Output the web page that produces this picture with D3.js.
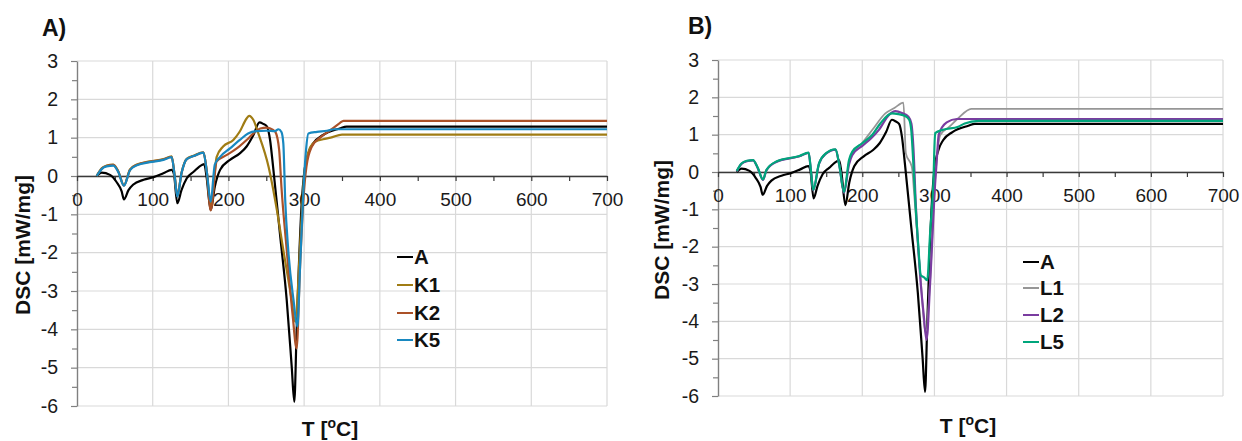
<!DOCTYPE html>
<html>
<head>
<meta charset="utf-8">
<script src="https://cdn.jsdelivr.net/npm/d3@7"></script>
<style>
  html, body { margin: 0; padding: 0; background: #fff; }
  svg { display: block; font-family: "Liberation Sans", Arial, sans-serif; }
</style>
</head>
<body>
<svg id="chart" width="1242" height="441"></svg>
<script>
// ---- DSC curves: temperature [°C] and heat flow [mW/mg] ----
const tempA = [26, 32.6, 43.6, 52, 59, 62, 68, 74, 88, 101, 114, 125, 128, 132.5, 138, 145, 154, 165, 168, 171, 176.6, 182, 189, 202, 215, 224, 233, 241, 246, 251, 255, 259, 268, 277, 283.6, 287, 290, 293, 297, 300, 305.6, 312, 325, 347, 356, 700];
const dscA  = [0, 0.09, 0.03, -0.15, -0.4, -0.61, -0.37, -0.23, -0.1, -0.03, 0.07, 0.16, 0.05, -0.71, -0.37, -0.06, 0.11, 0.29, 0.31, 0.0, -0.89, -0.28, 0.16, 0.42, 0.59, 0.77, 1.07, 1.4, 1.36, 1.29, 0.94, 0.24, -1.5, -3.24, -4.98, -5.89, -4.1, -2.37, -0.63, 0.07, 0.59, 0.85, 1.07, 1.24, 1.29, 1.29];

const tempK1 = [26, 32.6, 39, 48, 54.6, 62, 70, 79, 96, 114, 125, 129, 132.5, 138, 145, 154, 167, 171.5, 176.6, 184.5, 193, 206.5, 215, 224, 227.5, 233, 239.5, 253, 264, 272.5, 283.6, 288, 295.5, 300, 303, 308, 315, 325, 335, 350, 700];
const dscK1  = [0, 0.2, 0.27, 0.3, 0.12, -0.24, 0.17, 0.3, 0.38, 0.44, 0.51, 0.0, -0.52, 0.08, 0.45, 0.53, 0.62, 0.1, -0.8, 0.5, 0.77, 0.94, 1.16, 1.5, 1.57, 1.46, 1.11, 0.24, -0.89, -1.93, -3.24, -3.8, -1.5, 0.0, 0.4, 0.75, 0.9, 0.96, 1.0, 1.08, 1.08];

const tempK2 = [26, 32.6, 39, 48, 54.6, 62, 70, 79, 96, 114, 125, 129, 132.5, 138, 145, 154, 167, 171.5, 176.6, 184.5, 198, 211, 224, 233, 242, 250.5, 259, 262, 267, 270, 277, 285, 290, 294.6, 299, 303, 310, 321, 335, 347, 352, 700];
const dscK2  = [0, 0.19, 0.26, 0.29, 0.11, -0.25, 0.16, 0.29, 0.37, 0.43, 0.5, 0.0, -0.53, 0.07, 0.44, 0.52, 0.61, 0.1, -0.9, 0.38, 0.55, 0.72, 0.94, 1.11, 1.24, 1.26, 1.2, 1.15, 0.68, -0.28, -1.93, -3.67, -4.5, -2.37, -0.63, 0.24, 0.76, 1.0, 1.2, 1.38, 1.44, 1.44];

const tempK5 = [26, 32.6, 39, 48, 54.6, 62, 70, 79, 96, 114, 125, 129, 132.5, 138, 145, 154, 167, 171.5, 176.6, 182, 189, 202, 215, 226, 237, 250, 261.5, 266, 270, 272.5, 275, 279, 286, 291, 294.6, 299, 302.5, 305.6, 317, 330, 340, 700];
const dscK5  = [0, 0.18, 0.25, 0.27, 0.1, -0.25, 0.15, 0.28, 0.36, 0.42, 0.49, 0.0, -0.54, 0.07, 0.44, 0.52, 0.61, 0.1, -0.67, 0.3, 0.5, 0.72, 0.94, 1.11, 1.17, 1.18, 1.17, 1.22, 1.15, 0.85, -0.63, -1.93, -3.24, -3.93, -2.37, -0.4, 0.68, 1.11, 1.15, 1.18, 1.22, 1.22];

const tempL1 = [26, 32.6, 40, 48.6, 55, 62.4, 67, 80.7, 112.8, 125.6, 129, 132, 140, 149.5, 163, 168, 174.7, 181.6, 186, 200, 214, 232, 245, 257, 260.4, 268.7, 272, 281, 288, 294, 300, 304, 308, 320, 333, 351, 700];
const dscL1  = [0.02, 0.22, 0.29, 0.31, 0.11, -0.21, 0.04, 0.27, 0.42, 0.51, 0.0, -0.49, 0.22, 0.49, 0.6, 0.2, -0.55, 0.25, 0.5, 0.78, 1.13, 1.57, 1.72, 1.86, 0.5, 0.14, -0.6, -2.9, -4.3, -2.9, -0.5, 0.5, 0.99, 1.2, 1.44, 1.69, 1.69];

const tempL2 = [26, 32.6, 40, 48.6, 55, 62.4, 67, 80.7, 112.8, 125.6, 129, 132, 140, 149.5, 163, 168, 174.7, 181.6, 186, 200, 212, 223, 237, 246, 255, 264, 268, 271, 274, 281, 285, 289, 294, 301, 303.5, 306, 317, 331, 700];
const dscL2  = [0.02, 0.22, 0.29, 0.31, 0.11, -0.21, 0.04, 0.27, 0.42, 0.51, 0.0, -0.49, 0.22, 0.49, 0.6, 0.2, -0.55, 0.2, 0.45, 0.7, 0.9, 1.13, 1.53, 1.63, 1.58, 1.48, 1.3, 0.6, -0.8, -2.98, -3.8, -4.5, -2.98, -0.3, 0.4, 1.0, 1.33, 1.42, 1.42];

const tempL5 = [26, 32.6, 40, 48.6, 55, 62.4, 67, 80.7, 112.8, 125.6, 129, 132, 140, 149.5, 163, 168, 174.7, 181.6, 186, 200, 213.6, 225, 241, 250, 259.5, 265, 268, 270, 274, 278, 281, 286, 290, 294, 298.5, 301, 312, 333, 342, 361, 700];
const dscL5  = [0.03, 0.23, 0.3, 0.32, 0.12, -0.2, 0.05, 0.28, 0.43, 0.52, 0.0, -0.48, 0.23, 0.5, 0.61, 0.2, -0.53, 0.32, 0.54, 0.77, 0.99, 1.3, 1.57, 1.55, 1.5, 1.4, 1.1, 0.5, -0.95, -2.09, -2.76, -2.83, -2.9, -1.64, -0.3, 1.04, 1.13, 1.21, 1.3, 1.37, 1.37];

// ---- axes ----
const xTicks = [0, 100, 200, 300, 400, 500, 600, 700];
const yTicks = [-6, -5, -4, -3, -2, -1, 0, 1, 2, 3];
const xDomain = [0, 700];
const yDomain = [-6, 3];

const zip = (t, v) => t.map((d, i) => [d, v[i]]);

const panels = [
  {
    title: "A)", titleX: 42, titleY: 36,
    xRange: [77, 607], yRange: [406, 61],
    yTitle: [22, 245], xTitle: [330, 436],
    legendX: 397, legendY: [257, 285, 313, 340],
    series: [
      { name: "A",  color: "#000000", data: zip(tempA, dscA) },
      { name: "K1", color: "#a07c14", data: zip(tempK1, dscK1) },
      { name: "K2", color: "#ab5128", data: zip(tempK2, dscK2) },
      { name: "K5", color: "#1888c0", data: zip(tempK5, dscK5) }
    ]
  },
  {
    title: "B)", titleX: 688, titleY: 34,
    xRange: [718, 1223], yRange: [396, 60],
    yTitle: [661, 230], xTitle: [968, 433],
    legendX: 1023, legendY: [262, 288, 315, 342],
    series: [
      { name: "A",  color: "#000000", data: zip(tempA, dscA) },
      { name: "L1", color: "#969696", data: zip(tempL1, dscL1), width: 1.8 },
      { name: "L2", color: "#7a3ca0", data: zip(tempL2, dscL2) },
      { name: "L5", color: "#00a67c", data: zip(tempL5, dscL5) }
    ]
  }
];

const svg = d3.select("#chart");
svg.append("rect").attr("width", 1242).attr("height", 441).attr("fill", "#fff");

panels.forEach(p => {
  const x = d3.scaleLinear().domain(xDomain).range(p.xRange);
  const y = d3.scaleLinear().domain(yDomain).range(p.yRange);
  const g = svg.append("g");

  // gridlines
  g.append("g").selectAll("line.h").data(yTicks).join("line")
    .attr("x1", x(0)).attr("x2", x(700))
    .attr("y1", d => y(d)).attr("y2", d => y(d))
    .attr("stroke", "#d9d9d9").attr("stroke-width", 1.2);
  g.append("g").selectAll("line.v").data(xTicks.slice(1)).join("line")
    .attr("x1", d => x(d)).attr("x2", d => x(d))
    .attr("y1", y(3)).attr("y2", y(-6))
    .attr("stroke", "#d9d9d9").attr("stroke-width", 1.2);

  // y axis with half-unit minor ticks
  const yAxis = d3.axisLeft(y)
    .tickValues(d3.range(-6, 3.01, 0.5))
    .tickSize(6).tickSizeOuter(0).tickPadding(13)
    .tickFormat(d => Number.isInteger(d) ? String(d) : "");
  const ya = g.append("g").attr("transform", `translate(${x(0)},0)`).call(yAxis);
  ya.select(".domain").attr("stroke", "#808080").attr("stroke-width", 1.4);
  ya.selectAll(".tick line").attr("stroke", "#808080").attr("stroke-width", 1.2)
    .attr("x2", d => Number.isInteger(d) ? -6 : -5);
  ya.selectAll(".tick text").attr("font-size", 19.5).attr("fill", "#1a1a1a")
    .attr("font-family", '"Liberation Sans", Arial, sans-serif');

  // x axis along DSC = 0
  const xAxis = d3.axisBottom(x)
    .tickValues(d3.range(0, 701, 50))
    .tickSize(5).tickSizeOuter(0).tickPadding(12)
    .tickFormat(d => d % 100 === 0 ? String(d) : "");
  const xa = g.append("g").attr("transform", `translate(0,${y(0)})`).call(xAxis);
  xa.select(".domain").attr("stroke", "#3a3a3a").attr("stroke-width", 1.4);
  xa.selectAll(".tick line").attr("stroke", "#3a3a3a").attr("stroke-width", 1.2);
  xa.selectAll(".tick text").attr("font-size", 19).attr("fill", "#1a1a1a")
    .attr("font-family", '"Liberation Sans", Arial, sans-serif');

  // curves
  const line = d3.line().x(d => x(d[0])).y(d => y(d[1])).curve(d3.curveMonotoneX);
  g.append("g").selectAll("path").data(p.series).join("path")
    .attr("d", s => line(s.data))
    .attr("fill", "none")
    .attr("stroke", s => s.color)
    .attr("stroke-width", s => s.width || 2.2)
    .attr("stroke-linejoin", "round");

  // legend
  const lg = g.append("g");
  p.series.forEach((s, i) => {
    const ly = p.legendY[i];
    lg.append("line")
      .attr("x1", p.legendX).attr("x2", p.legendX + 16)
      .attr("y1", ly).attr("y2", ly)
      .attr("stroke", s.color).attr("stroke-width", 2);
    lg.append("text")
      .attr("x", p.legendX + 17).attr("y", ly + 7.3)
      .attr("font-size", 20.5).attr("font-weight", "bold").attr("fill", "#111")
      .text(s.name);
  });

  // panel label
  g.append("text").attr("x", p.titleX).attr("y", p.titleY)
    .attr("font-size", 23).attr("font-weight", "bold").attr("fill", "#111")
    .text(p.title);

  // axis titles
  g.append("text")
    .attr("transform", `translate(${p.yTitle[0] + 7.5},${p.yTitle[1]}) rotate(-90)`)
    .attr("text-anchor", "middle")
    .attr("font-size", 21).attr("font-weight", "bold").attr("fill", "#111")
    .text("DSC [mW/mg]");

  const xt = g.append("text")
    .attr("x", p.xTitle[0]).attr("y", p.xTitle[1])
    .attr("text-anchor", "middle")
    .attr("font-size", 21).attr("font-weight", "bold").attr("fill", "#111");
  xt.append("tspan").text("T [");
  xt.append("tspan").attr("font-size", 14).attr("dy", -8).text("o");
  xt.append("tspan").attr("dy", 8).text("C]");
});
</script>
</body>
</html>
